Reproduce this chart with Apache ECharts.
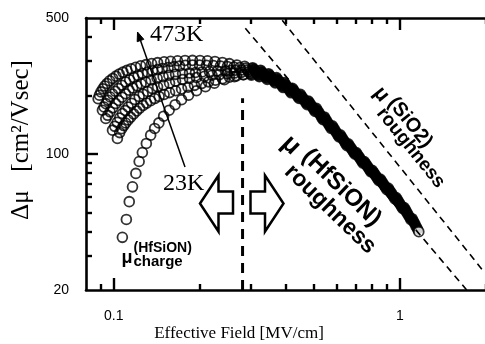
<!DOCTYPE html>
<html>
<head>
<meta charset="utf-8">
<script src="https://cdn.jsdelivr.net/npm/echarts@6/dist/echarts.min.js"></script>
<style>
  html, body { margin: 0; padding: 0; background: #fff; }
  #chart { width: 485px; height: 344px; }
</style>
</head>
<body>
<div id="chart"></div>
<script>
// Plot ranges: effective field [MV/cm] and mobility difference [cm2/Vs]
const fieldRange = [0.08, 2];
const mobilityRange = [20, 500];

// Tick positions and labelled values
const xMajorTicks = [0.1, 1];
const xMinorTicks = [0.09, 0.2, 0.3, 0.4, 0.5, 0.6, 0.7, 0.8, 0.9, 2];
const xTickLabels = [0.1, 1];
const yMajorTicks = [100];
const yMinorTicks = [30, 40, 50, 60, 70, 80, 90, 200, 300, 400];
const yTickLabels = [20, 100, 500];

// Delta-mu vs effective field, one curve per temperature: [field, delta mu]
const curve473K = [
  [0.0882,192.4],[0.0891,200.5],[0.0902,208.5],[0.0916,216.3],[0.0930,223.5],[0.0948,230.4],
  [0.0968,237.6],[0.0992,244.5],[0.1018,251.3],[0.1045,257.5],[0.1077,263.4],[0.1112,269.0],
  [0.1150,274.2],[0.1193,279.1],[0.1242,283.8],[0.1296,287.8],[0.1356,291.6],[0.1423,294.7],
  [0.1500,297.5],[0.1580,299.6],[0.1671,301.4],[0.1775,302.5],[0.1885,302.8],[0.2002,302.5],
  [0.2126,301.1],[0.2258,298.9],[0.2398,295.4],[0.2536,291.3],[0.2693,286.8],
  [0.2868,282.4],[0.3058,277.6],[0.3259,269.6],[0.3476,258.6],[0.3706,247.0],[0.3952,232.9],
  [0.4214,217.5],[0.4494,202.4],[0.4792,187.2],[0.5109,171.5],[0.5447,155.0],[0.5809,139.5],
  [0.6193,125.4],[0.6604,112.7],[0.7042,101.6],[0.7509,91.5],[0.8006,82.5],[0.8538,74.4],
  [0.9105,66.8],[0.9708,59.7],[1.0352,53.1],[1.1038,46.5]
];
const curve373K = [
  [0.0913,167.9],[0.0925,174.4],[0.0939,181.5],[0.0955,188.7],[0.0972,196.3],[0.0990,203.4],
  [0.1012,210.2],[0.1038,217.3],[0.1068,225.6],[0.1101,234.6],[0.1137,240.8],[0.1176,247.2],
  [0.1216,253.4],[0.1259,259.1],[0.1314,263.4],[0.1367,267.5],[0.1423,271.3],[0.1478,274.9],
  [0.1549,278.1],[0.1625,281.1],[0.1698,283.5],[0.1782,285.8],[0.1885,286.5],[0.1994,286.5],
  [0.2109,285.8],[0.2231,284.8],[0.2360,283.5],[0.2496,281.8],[0.2629,279.8],[0.2759,278.1],
  [0.2900,276.3],[0.3093,272.1],[0.3296,263.9],[0.3515,252.9],[0.3748,241.1],[0.3997,226.9],
  [0.4262,212.2],[0.4545,197.4],[0.4846,182.5],[0.5167,166.8],[0.5509,150.6],[0.5875,135.8],
  [0.6263,122.1],[0.6679,109.8],[0.7122,99.0],[0.7593,89.2],[0.8097,80.4],[0.8634,72.5],
  [0.9207,65.1],[0.9818,58.1],[1.0469,51.6],[1.1163,45.1]
];
const curve300K = [
  [0.0938,152.2],[0.0953,158.1],[0.0971,164.8],[0.0992,172.7],[0.1016,181.7],[0.1041,188.3],
  [0.1069,195.8],[0.1099,204.1],[0.1131,212.7],[0.1165,218.6],[0.1205,224.3],[0.1247,229.6],
  [0.1293,234.6],[0.1351,240.0],[0.1418,245.1],[0.1488,249.5],[0.1558,253.9],[0.1645,256.6],
  [0.1740,259.1],[0.1840,260.9],[0.1931,262.4],[0.2037,264.0],[0.2160,265.3],[0.2303,266.5],
  [0.2456,267.8],[0.2557,268.4],[0.2661,269.4],[0.2793,270.0],
  [0.2930,270.5],[0.3125,266.0],[0.3330,258.4],[0.3552,248.0],[0.3787,235.4],[0.4038,221.5],
  [0.4306,207.1],[0.4592,192.9],[0.4896,178.1],[0.5221,162.5],[0.5566,146.7],[0.5936,132.3],
  [0.6328,119.1],[0.6749,107.2],[0.7196,96.7],[0.7673,87.1],[0.8181,78.5],[0.8724,70.8],
  [0.9303,63.5],[0.9920,56.6],[1.0578,50.1],[1.1279,43.8]
];
const curve200K = [
  [0.0990,132.6],[0.1008,138.7],[0.1028,145.5],[0.1049,153.1],[0.1072,161.5],[0.1097,167.5],
  [0.1123,174.4],[0.1154,182.1],[0.1185,190.8],[0.1227,197.7],[0.1267,203.1],[0.1314,209.7],
  [0.1364,217.0],[0.1423,221.4],[0.1494,226.1],[0.1567,231.3],[0.1645,236.5],[0.1740,241.4],
  [0.1840,244.5],[0.1946,247.4],[0.2075,250.7],[0.2207,253.9],[0.2341,256.0],[0.2496,258.4],
  [0.2640,260.6],[0.2793,262.8],
  [0.2961,264.8],[0.3158,260.3],[0.3365,253.1],[0.3589,242.7],[0.3827,229.9],[0.4081,216.4],
  [0.4352,202.4],[0.4641,188.4],[0.4948,174.0],[0.5276,158.2],[0.5625,143.0],[0.5999,129.0],
  [0.6395,116.2],[0.6820,104.7],[0.7272,94.4],[0.7754,85.1],[0.8267,76.7],[0.8816,69.0],
  [0.9401,62.0],[1.0025,55.1],[1.0689,48.7],[1.1398,42.4]
];
const curve100K = [
  [0.1030,120.2],[0.1049,128.8],[0.1066,135.0],[0.1084,140.0],[0.1101,144.3],[0.1123,149.6],
  [0.1146,154.6],[0.1174,160.6],[0.1203,166.4],[0.1232,171.9],[0.1267,177.5],[0.1303,182.6],
  [0.1346,187.8],[0.1390,192.8],[0.1441,197.7],[0.1500,202.2],[0.1567,206.8],[0.1645,211.4],
  [0.1726,216.0],[0.1818,220.6],[0.1915,225.4],[0.2026,230.2],[0.2143,234.8],[0.2267,239.4],
  [0.2398,243.7],[0.2536,248.0],[0.2683,252.2],[0.2838,255.7],
  [0.2995,259.2],[0.3193,254.8],[0.3403,247.3],[0.3630,237.2],[0.3870,224.7],[0.4127,211.1],
  [0.4401,197.4],[0.4693,183.7],[0.5003,169.7],[0.5335,153.9],[0.5688,139.1],[0.6066,125.5],
  [0.6467,113.1],[0.6896,102.0],[0.7354,92.0],[0.7841,82.9],[0.8360,74.7],[0.8915,67.3],
  [0.9507,60.3],[1.0137,53.7],[1.0809,47.3],[1.1526,41.1]
];
const curve23K = [
  [0.1072,37.3],[0.1107,46.1],[0.1133,56.9],[0.1163,67.8],[0.1195,79.5],[0.1227,91.5],
  [0.1259,101.8],[0.1300,113.3],[0.1346,125.0],[0.1390,135.3],[0.1438,144.5],[0.1494,156.4],
  [0.1562,167.9],[0.1639,179.2],[0.1726,190.1],[0.1826,200.5],[0.1947,211.4],[0.2092,221.7],
  [0.2248,231.0],[0.2436,240.8],[0.2640,249.5],[0.2838,255.4],
  [0.3026,254.4],[0.3227,249.5],[0.3439,241.8],[0.3668,231.8],[0.3911,219.6],[0.4170,206.3],
  [0.4447,192.9],[0.4742,179.4],[0.5056,165.4],[0.5391,150.0],[0.5748,135.5],[0.6130,122.3],
  [0.6535,110.4],[0.6969,99.7],[0.7431,89.8],[0.7923,81.0],[0.8448,73.0],[0.9009,65.6],
  [0.9607,58.8],[1.0244,52.3],[1.0923,46.0],[1.1647,39.9]
];
const curves = [
  ['473K', curve473K], ['373K', curve373K], ['300K', curve300K],
  ['200K', curve200K], ['100K', curve100K], ['23K', curve23K]
];

// Roughness-limited mobility lines and the boundary field
const roughnessHfSiON = [[0.2884, 442.6], [1.712, 20]];
const roughnessSiO2 = [[0.388, 486.4], [1.946, 25.3]];
const boundaryField = 0.282;
const boundaryLine = [[boundaryField, 20], [boundaryField, 193.5]];

const lg = v => Math.log10(v);
const toLog = pts => pts.map(p => [lg(p[0]), lg(p[1])]);
const fmt = v => String(+Math.pow(10, v).toPrecision(3));

const BLACK = '#000';
const SANS = '"Liberation Sans", Arial, sans-serif';
const SERIF = '"Liberation Serif", "Times New Roman", serif';
const gridRect = { left: 86, top: 18, width: 400, height: 272, outerBoundsMode: 'none' };
// above this field the overlapping curves merge into one dense band
const DENSE_FROM = 0.30;

function axis(dim, gridIndex, position, opts) {
  const range = dim === 'x' ? fieldRange : mobilityRange;
  return {
    type: 'value', gridIndex, position,
    min: lg(range[0]), max: lg(range[1]),
    axisLine: { show: !!opts.line, onZero: false, lineStyle: { color: BLACK, width: 2.6 } },
    axisTick: opts.ticks ? {
      show: true, inside: true, length: opts.len,
      customValues: opts.ticks.map(lg),
      lineStyle: { color: BLACK, width: 2.4 }
    } : { show: false },
    axisLabel: opts.labels ? {
      show: true, customValues: opts.labels.map(lg), formatter: fmt,
      color: BLACK, fontFamily: SANS, fontSize: 14, margin: opts.margin
    } : { show: false },
    splitLine: { show: false }
  };
}

function circles(name, data, fill) {
  return {
    name, type: 'scatter', xAxisIndex: 0, yAxisIndex: 0,
    data, symbol: 'circle', symbolSize: 9.8,
    itemStyle: { color: fill, borderColor: BLACK, borderWidth: 1.8 },
    silent: true
  };
}

function dashed(pts, width, dash) {
  return {
    type: 'line', xAxisIndex: 0, yAxisIndex: 0, data: toLog(pts),
    symbol: 'none', showSymbol: false, silent: true,
    lineStyle: { color: BLACK, width, type: dash }
  };
}

function label(text, x, y, font) {
  return {
    type: 'text', x, y, z: 100, silent: true,
    style: { text, font, fill: BLACK, align: 'left', verticalAlign: 'middle',
             textAlign: 'left', textVerticalAlign: 'middle' }
  };
}

function centred(text, x, y, font, rotation) {
  return {
    type: 'text', x, y, rotation: rotation || 0, z: 100, silent: true,
    style: { text, font, fill: BLACK, align: 'center', verticalAlign: 'middle',
             textAlign: 'center', textVerticalAlign: 'middle' }
  };
}

// open circles where curves are apart, solid band where they pile up;
// the final point of the last curve stays open at the end of the band
const openSeries = curves.map(([name, pts]) =>
  circles(name, toLog(pts.filter(p => p[0] < DENSE_FROM)), 'rgba(255,255,255,0)'));
const denseSeries = curves.map(([name, pts], ci) => {
  const tail = toLog(pts.filter(p => p[0] >= DENSE_FROM));
  const data = tail.map((v, i) => (ci === curves.length - 1 && i === tail.length - 1)
    ? { value: v, itemStyle: { color: '#fff' } } : v);
  return circles(name, data, BLACK);
});

const arrowTip = [137.5, 32];
const arrowTail = [185, 167];

const option = {
  animation: false,
  backgroundColor: '#fff',
  grid: [Object.assign({}, gridRect), Object.assign({}, gridRect)],
  xAxis: [
    axis('x', 0, 'bottom', { line: true, ticks: xMajorTicks, len: 12, labels: xTickLabels, margin: 19 }),
    axis('x', 0, 'top', { line: true, ticks: xMajorTicks, len: 12 }),
    axis('x', 1, 'bottom', { ticks: xMinorTicks, len: 6 }),
    axis('x', 1, 'top', { ticks: xMinorTicks, len: 6 })
  ],
  yAxis: [
    axis('y', 0, 'left', { line: true, ticks: yMajorTicks, len: 12, labels: yTickLabels, margin: 17 }),
    axis('y', 0, 'right', { line: true }),
    axis('y', 1, 'left', { ticks: yMinorTicks, len: 6 }),
    axis('y', 1, 'right', {})
  ],
  series: [
    dashed(roughnessHfSiON, 1.6, [7, 5]),
    dashed(roughnessSiO2, 1.6, [7, 5]),
    dashed(boundaryLine, 3, [10, 7])
  ].concat(openSeries, denseSeries),
  graphic: [
    // axis titles
    centred('Effective Field [MV/cm]', 239, 334, '17px ' + SERIF),
    centred('\u0394\u03bc   [cm\u00b2/Vsec]', 21, 140, '25px ' + SERIF, Math.PI / 2),
    // temperature labels and arrow
    label('473K', 150, 35, '24px ' + SERIF),
    label('23K', 163, 183.6, '24px ' + SERIF),
    { type: 'line', z: 100, silent: true,
      shape: { x1: arrowTail[0], y1: arrowTail[1], x2: 140.5, y2: 40.5 },
      style: { stroke: BLACK, lineWidth: 1.5 } },
    { type: 'polygon', z: 100, silent: true,
      shape: { points: [arrowTip, [143.8, 39.3], [137.2, 41.7]] },
      style: { fill: BLACK, stroke: BLACK, lineWidth: 1 } },
    // block arrows either side of the boundary field
    { type: 'polygon', z: 100, silent: true,
      shape: { points: [[200, 203.5], [218.5, 175.5], [218.5, 191.5], [233, 191.5],
                        [233, 213.5], [218.5, 213.5], [218.5, 231.5]] },
      style: { fill: '#fff', stroke: BLACK, lineWidth: 2.5, lineJoin: 'miter' } },
    { type: 'polygon', z: 100, silent: true,
      shape: { points: [[250.5, 191.5], [265, 191.5], [265, 175.5], [283.5, 203.5],
                        [265, 231.5], [265, 213.5], [250.5, 213.5]] },
      style: { fill: '#fff', stroke: BLACK, lineWidth: 2.5, lineJoin: 'miter' } },
    // Coulomb (charge) term label
    label('\u03bc', 121.5, 258.3, 'bold 18px ' + SANS),
    label('(HfSiON)', 133.5, 248.6, 'bold 14px ' + SANS),
    label('charge', 133.5, 261.6, 'bold 15px ' + SANS),
    // roughness term labels, written along the lines
    { type: 'group', x: 279, y: 146, rotation: -44 * Math.PI / 180, z: 100, silent: true,
      children: [
        label('\u03bc', 0, -9, 'bold 26px ' + SANS),
        label('(HfSiON)', 24, -13.3, 'bold 24px ' + SANS),
        label('roughness', 22, 10, 'bold 23px ' + SANS)
      ] },
    { type: 'group', x: 371.5, y: 94, rotation: -51 * Math.PI / 180, z: 100, silent: true,
      children: [
        label('\u03bc', 0, -7.3, 'bold 21px ' + SANS),
        label('(SiO2)', 17, -11.9, 'bold 20px ' + SANS),
        label('roughness', 18, 3.4, 'bold 19px ' + SANS)
      ] }
  ]
};

const chart = echarts.init(document.getElementById('chart'), null, { renderer: 'canvas' });
chart.setOption(option);
</script>
</body>
</html>
